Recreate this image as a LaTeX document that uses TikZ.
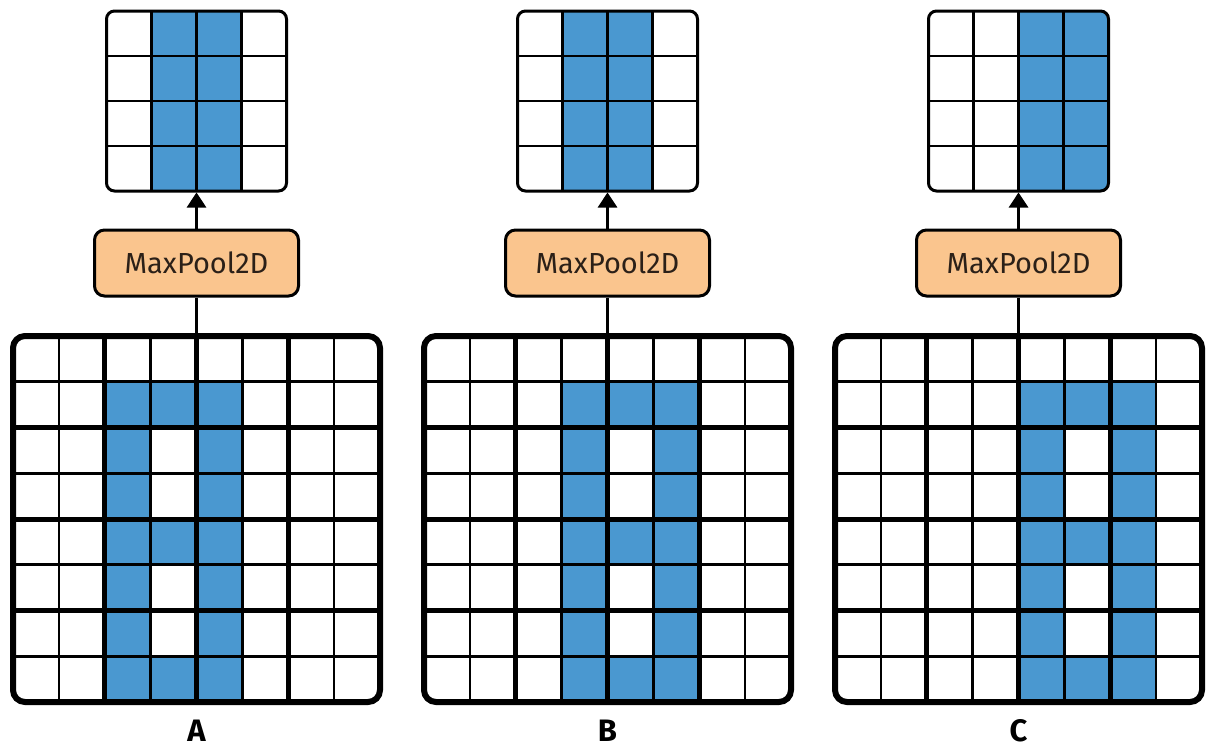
\documentclass[tikz,border=0pt]{standalone}
\usepackage{fontspec}
\setmainfont{Fira Sans}
\usetikzlibrary{arrows.meta}
\definecolor{cellblue}{HTML}{4A98D0}
\definecolor{poolorange}{HTML}{FAC58E}
\definecolor{pooltext}{HTML}{2B2018}
\begin{document}
\begin{tikzpicture}[x=1pt,y=-1pt,
  bigframe/.style={draw=black,line width=6pt,rounded corners=12pt,inner sep=0pt,minimum width=367pt,minimum height=366pt},
  smallframe/.style={draw=black,line width=3pt,rounded corners=8pt,inner sep=0pt,minimum size=180pt},
  poolbox/.style={draw=black,line width=3pt,fill=poolorange,rounded corners=10pt,minimum width=204pt,minimum height=66pt,inner sep=0pt,text=pooltext,font=\fontsize{29}{32}\selectfont},
  thinline/.style={line width=2.6pt},
  thickline/.style={line width=5pt},
  gridline/.style={line width=2.2pt},
  link/.style={line width=3pt},
  panellabel/.style={font=\fontsize{31}{33}\selectfont\bfseries}
]
\useasboundingbox (0,0) rectangle (1208,755);
\foreach \n/\o/\s [count=\i from 0] in {A/0/1,B/1/1,C/2/2} {
  \pgfmathsetmacro\xo{13+411*\i}
  \pgfmathsetmacro\xc{\xo+183.5}
  \pgfmathsetmacro\tx{\xc-90}
  % bottom grid fills
  \foreach \c/\r in {2/1,3/1,4/1,2/2,4/2,2/3,4/3,2/4,3/4,4/4,2/5,4/5,2/6,4/6,2/7,3/7,4/7}
    \fill[cellblue] (\xo+45.875*\c+45.875*\o,336+45.75*\r) rectangle ++(45.875,45.75);
  % bottom grid lines
  \foreach \k in {1,3,5,7} {
    \draw[thinline] (\xo+45.875*\k,336) -- ++(0,366);
    \draw[thinline] (\xo,336+45.75*\k) -- ++(367,0);
  }
  \foreach \k in {2,4,6} {
    \draw[thickline] (\xo+45.875*\k,336) -- ++(0,366);
    \draw[thickline] (\xo,336+45.75*\k) -- ++(367,0);
  }
  \node[bigframe] (g\n) at (\xc,519) {};
  % top grid fills
  \begin{scope}
    \clip[rounded corners=8pt] (\tx,11) rectangle ++(180,180);
    \fill[cellblue] (\tx+45*\s,11) rectangle ++(90,180);
  \end{scope}
  \foreach \k in {1,2,3} {
    \draw[gridline] (\tx+45*\k,11) -- ++(0,180);
    \draw[gridline] (\tx,11+45*\k) -- ++(180,0);
  }
  \node[smallframe] (t\n) at (\xc,101) {};
  \node[poolbox] (m\n) at (\xc,263) {MaxPool2D};
  \node[panellabel] (l\n) at (\xc,731) {\n};
  \draw[link] (g\n.north) -- (m\n.south);
  \draw[link,-{Triangle[length=15pt,width=19pt]}] (m\n.north) -- (t\n.south);
}
\end{tikzpicture}
\end{document}
